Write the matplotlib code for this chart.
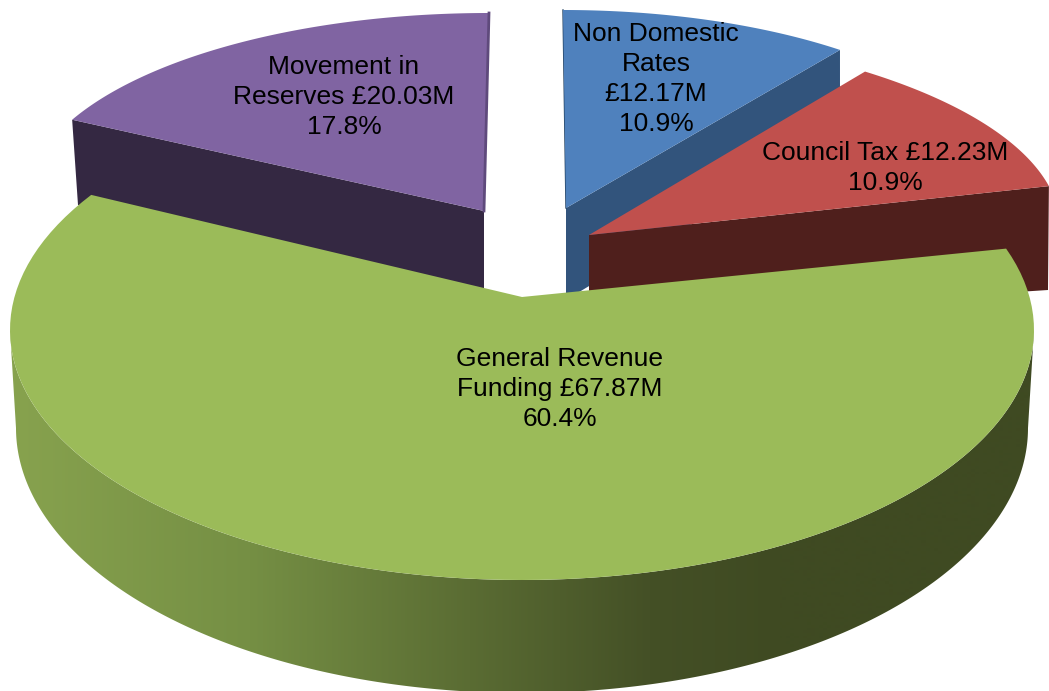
import numpy as np
import matplotlib
matplotlib.use('Agg')
import matplotlib.pyplot as plt
from matplotlib.patches import Polygon

# Budget shares, clockwise from 12 o'clock
names = ['Non Domestic Rates', 'Council Tax', 'General Revenue Funding', 'Movement in Reserves']
values = [12.17, 12.23, 67.87, 20.03]
labels = ['Non Domestic\nRates\n£12.17M\n10.9%',
          'Council Tax £12.23M\n10.9%',
          'General Revenue\nFunding £67.87M\n60.4%',
          'Movement in\nReserves £20.03M\n17.8%']

top_colors = ['#4F81BD', '#C0504D', '#9BBB59', '#8064A2']
side_colors = ['#32547C', '#4F1F1C', '#3F4A22', '#342842']

# Look of each exploded slice in picture pixels:
# apex, ellipse centre, semi axes, start angle on the ellipse, angle stretch, depth at rim and apex
shapes = [
    dict(apex=(566, 208), c=(563, 189), a=440, b=179, start=0, stretch=1.0, rim_foot=(840, 134), apex_foot=(566, 300)),
    dict(apex=(589, 235), c=(534, 227), a=526, b=200, start=39, stretch=1.0, rim_foot=(1048, 290), apex_foot=(589, 320)),
    dict(apex=(522, 297), c=(522, 330), a=512, b=250, start=71, stretch=1.065, rim_foot=None, apex_foot=None),
    dict(apex=(484, 211), c=(489, 202), a=463, b=189, start=-64.2, stretch=1.0, rim_foot=(78, 205), apex_foot=(484, 295)),
]
label_pos = [(656, 79), (885, 168), (560, 389), (344, 97)]

# Lower rim of the big slice, and the shading of its side
lower_c, lower_a, lower_b = (522, 428), 506, 265
shade_x = [15, 250, 470, 650, 780, 1030]
shade_r = [135, 117, 90, 68, 63, 63]
shade_g = [162, 143, 108, 80, 74, 74]
shade_b = [78, 68, 51, 38, 34, 34]

plt.rcParams['font.family'] = ['Liberation Sans', 'DejaVu Sans']

fig = plt.figure(figsize=(10.49, 6.91), dpi=100)
ax = fig.add_axes([0, 0, 1, 1])

spans = np.array(values) / sum(values) * 360


def rim(s, span, n=120):
    t = np.radians(np.linspace(s['start'], s['start'] + span * s['stretch'], n))
    return np.column_stack((s['c'][0] + s['a'] * np.sin(t), s['c'][1] - s['b'] * np.cos(t)))


# Back slices: sides first so the next slice can sit on top
order = [3, 0, 1]
for i in order:
    s = shapes[i]
    pts = rim(s, spans[i])
    # Straight side under the cut edge that faces the viewer
    end = pts[0] if i == 3 else pts[-1]
    ax.add_patch(Polygon([s['apex'], end, s['rim_foot'], s['apex_foot']],
                         closed=True, fc=side_colors[i], ec='none', zorder=1 + order.index(i) * 2))
    ax.add_patch(Polygon(np.vstack(([s['apex']], pts)), closed=True,
                         fc=top_colors[i], ec='none', zorder=2 + order.index(i) * 2))

# Thin dark edges on the cuts next to the gap
ax.plot([563, 566], [10, 208], color='#22405F', lw=1, zorder=3)
ax.plot([489, 484], [13, 211], color='#5F4A7C', lw=2, zorder=3)

# Curved side of the big slice: a left to right gradient clipped to the band between the rims
s = shapes[2]
t = np.radians(np.linspace(90, 270, 300))
ux = s['c'][0] + s['a'] * np.sin(t)
uy = s['c'][1] - s['b'] * np.cos(t)
lx = lower_c[0] + lower_a * np.sin(t)
ly = lower_c[1] - lower_b * np.cos(t)
band = Polygon(np.vstack((np.column_stack((ux, uy)), np.column_stack((lx, ly))[::-1])),
               closed=True, fc='none', ec='none')
ax.add_patch(band)
xs = np.arange(0, 1050)
grad = np.column_stack((np.interp(xs, shade_x, shade_r),
                        np.interp(xs, shade_x, shade_g),
                        np.interp(xs, shade_x, shade_b)))[np.newaxis, :, :] / 255
im = ax.imshow(grad, extent=(0, 1049, 700, 0), aspect='auto', zorder=8, interpolation='bilinear')
im.set_clip_path(band)

pts = rim(s, spans[2])
ax.add_patch(Polygon(np.vstack(([s['apex']], pts)), closed=True, fc=top_colors[2], ec='none', zorder=9))

for lab, pos in zip(labels, label_pos):
    ax.text(pos[0], pos[1], lab, ha='center', va='center', fontsize=19, color='black',
            linespacing=1.33, zorder=10)

ax.set_xlim(0, 1049)
ax.set_ylim(691, 0)
ax.axis('off')

fig.savefig('out.png', dpi=100)
